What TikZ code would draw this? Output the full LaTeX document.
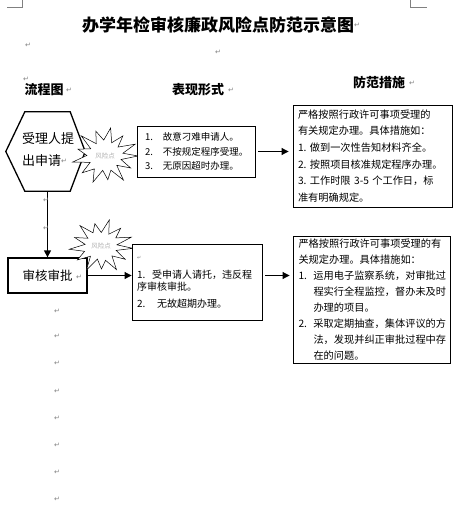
\documentclass[tikz,border=0pt]{standalone}
\usepackage{fontspec}
\setmainfont{Noto Sans CJK SC}
\newfontfamily\dejavu{DejaVu Sans}
\usetikzlibrary{arrows.meta,shadows}
\begin{document}
\begin{tikzpicture}[x=1pt,y=-1pt,
  pm/.style={text=gray, font=\dejavu\fontsize{7}{7}\selectfont, inner sep=0pt},
  hdr/.style={font=\bfseries\fontsize{13}{13}\selectfont, inner sep=0pt},
  tbox/.style={draw, line width=0.9pt, fill=white, align=left, inner ysep=0pt,
    drop shadow={shadow xshift=1.2pt, shadow yshift=-1.2pt, fill=black, opacity=1}},
  arr/.style={-{Triangle[length=7pt,width=7pt]}, line width=1pt},
  risktext/.style={text=gray!60, font=\fontsize{6.5}{6.5}\selectfont, inner sep=0pt},
  starline/.style={fill=white, draw=black, line width=0.5pt, line join=miter}
]
\useasboundingbox (0,0) rectangle (461,516);
% corner marks
\draw[gray, line width=0.6pt] (7,7) -- (22,7) -- (22,0);
\draw[gray, line width=0.6pt] (410,0) -- (410,7) -- (427,7);
% title and headers
\node[font=\bfseries\fontsize{17}{17}\selectfont, inner sep=0pt] (title) at (218,25) {办学年检审核廉政风险点防范示意图};
\node[hdr] (h1) at (44,90) {流程图};
\node[hdr] (h2) at (198,90) {表现形式};
\node[hdr] (h3) at (379,83) {防范措施};
% hexagon
\node[minimum width=79pt, minimum height=79pt, inner sep=0pt] (hex) at (45.5,151.5) {};
\draw[line width=1.3pt, line join=miter] (hex.west) -- ([xshift=19pt]hex.north west) -- ([xshift=-15pt]hex.north east) -- (hex.east) -- ([xshift=-15pt]hex.south east) -- ([xshift=19pt]hex.south west) -- cycle;
\node[align=left, font=\fontsize{13}{22}\selectfont, inner sep=0pt] (hextext) at (48,150) {受理人提\\出申请};
% risk 1
\coordinate (c1) at (105,156);
\begin{scope}[shift={(c1)}, xscale=33, yscale=29]
\path[starline] (0:1) \foreach \a/\f in {14/.5,28/.88,42/.48,56/1,70/.52,84/.82,98/.5,112/.97,126/.55,140/.9,154/.5,168/1,182/.55,196/.85,210/.5,224/1,238/.5,252/.9,266/.55,280/.98,294/.5,308/.88,322/.5,336/1,350/.55} { -- (\a:\f) } -- cycle;
\end{scope}
\node[risktext] (r1) at (c1) {风险点};
% box 1, box 3
\node[tbox, text width=102pt, inner xsep=8pt, minimum height=51pt, font=\fontsize{9.5}{14.5}\selectfont] (b1) at (196,151.5)
  {\makebox[18pt][l]{1.}故意刁难申请人。\\\makebox[18pt][l]{2.}不按规定程序受理。\\\makebox[18pt][l]{3.}无原因超时办理。};
\node[tbox, text width=149pt, inner xsep=5pt, minimum height=102pt, font=\fontsize{10.2}{16.6}\selectfont] (b3) at (372.5,156)
  {严格按照行政许可事项受理的\\有关规定办理。具体措施如：\\1.~做到一次性告知材料齐全。\\2.~按照项目核准规定程序办理。\\3.~工作时限~3-5~个工作日，标\\准有明确规定。};
% second row
\node[draw, line width=1.3pt, minimum width=79pt, minimum height=35pt, inner sep=0pt, font=\fontsize{12.5}{12.5}\selectfont] (sh) at (47.5,275.5) {审核审批};
\draw[arr, line width=1.3pt] (sh.north |- hex.south) -- (sh.north);
% risk 2
\coordinate (c2) at (101,246);
\begin{scope}[shift={(c2)}, xscale=32, yscale=27]
\path[starline] (5:1) \foreach \a/\f in {19/.5,33/.9,47/.5,61/1,75/.55,89/.85,103/.5,117/1,131/.5,145/.9,159/.55,173/1,187/.5,201/.88,215/.5,229/1,243/.55,257/.85,271/.5,285/1,299/.5,313/.9,327/.55,341/1,355/.5} { -- (\a:\f) } -- cycle;
\end{scope}
\node[risktext] (r2) at (c2) {风险点};
\node[tbox, text width=120pt, inner xsep=5pt, minimum height=76pt, font=\fontsize{10}{12}\selectfont] (b2) at (197,282)
  {{\dejavu\color{gray}\fontsize{5}{5}\selectfont ↵}\\[7pt]\makebox[15pt][l]{1.}受申请人请托，违反程\\序审核审批。\\[5pt]\makebox[20pt][l]{2.}无故超期办理。};
\node[tbox, text width=146pt, inner xsep=5.5pt, minimum height=127pt, font=\fontsize{10.2}{16}\selectfont] (b4) at (371.5,299.5)
  {严格按照行政许可事项受理的有\\关规定办理。具体措施如：\\\makebox[15pt][l]{1.}运用电子监察系统，对审批过\\\hspace*{15pt}程实行全程监控，督办未及时\\\hspace*{15pt}办理的项目。\\\makebox[15pt][l]{2.}采取定期抽查，集体评议的方\\\hspace*{15pt}法，发现并纠正审批过程中存\\\hspace*{15pt}在的问题。};
% arrows
\draw[arr, shorten <=3pt, shorten >=4pt] (b1.east) -- (b1.east -| b3.west);
\draw[arr] (sh.east) -- (sh.east -| b2.west);
\draw[arr, shorten <=3pt, shorten >=3pt] (sh.east -| b2.east) -- (sh.east -| b4.west);
% paragraph marks
\foreach \x/\y [count=\i] in {357/25, 28/45, 218/52, 26/79, 69/90, 231/90, 412/83, 64/161, 46/200, 46/228, 79/277, 57/311, 57/336, 57/363, 57/391, 57/418, 57/445, 57/472, 57/499}
  \node[pm] (pm\i) at (\x,\y) {↵};
\end{tikzpicture}
\end{document}
